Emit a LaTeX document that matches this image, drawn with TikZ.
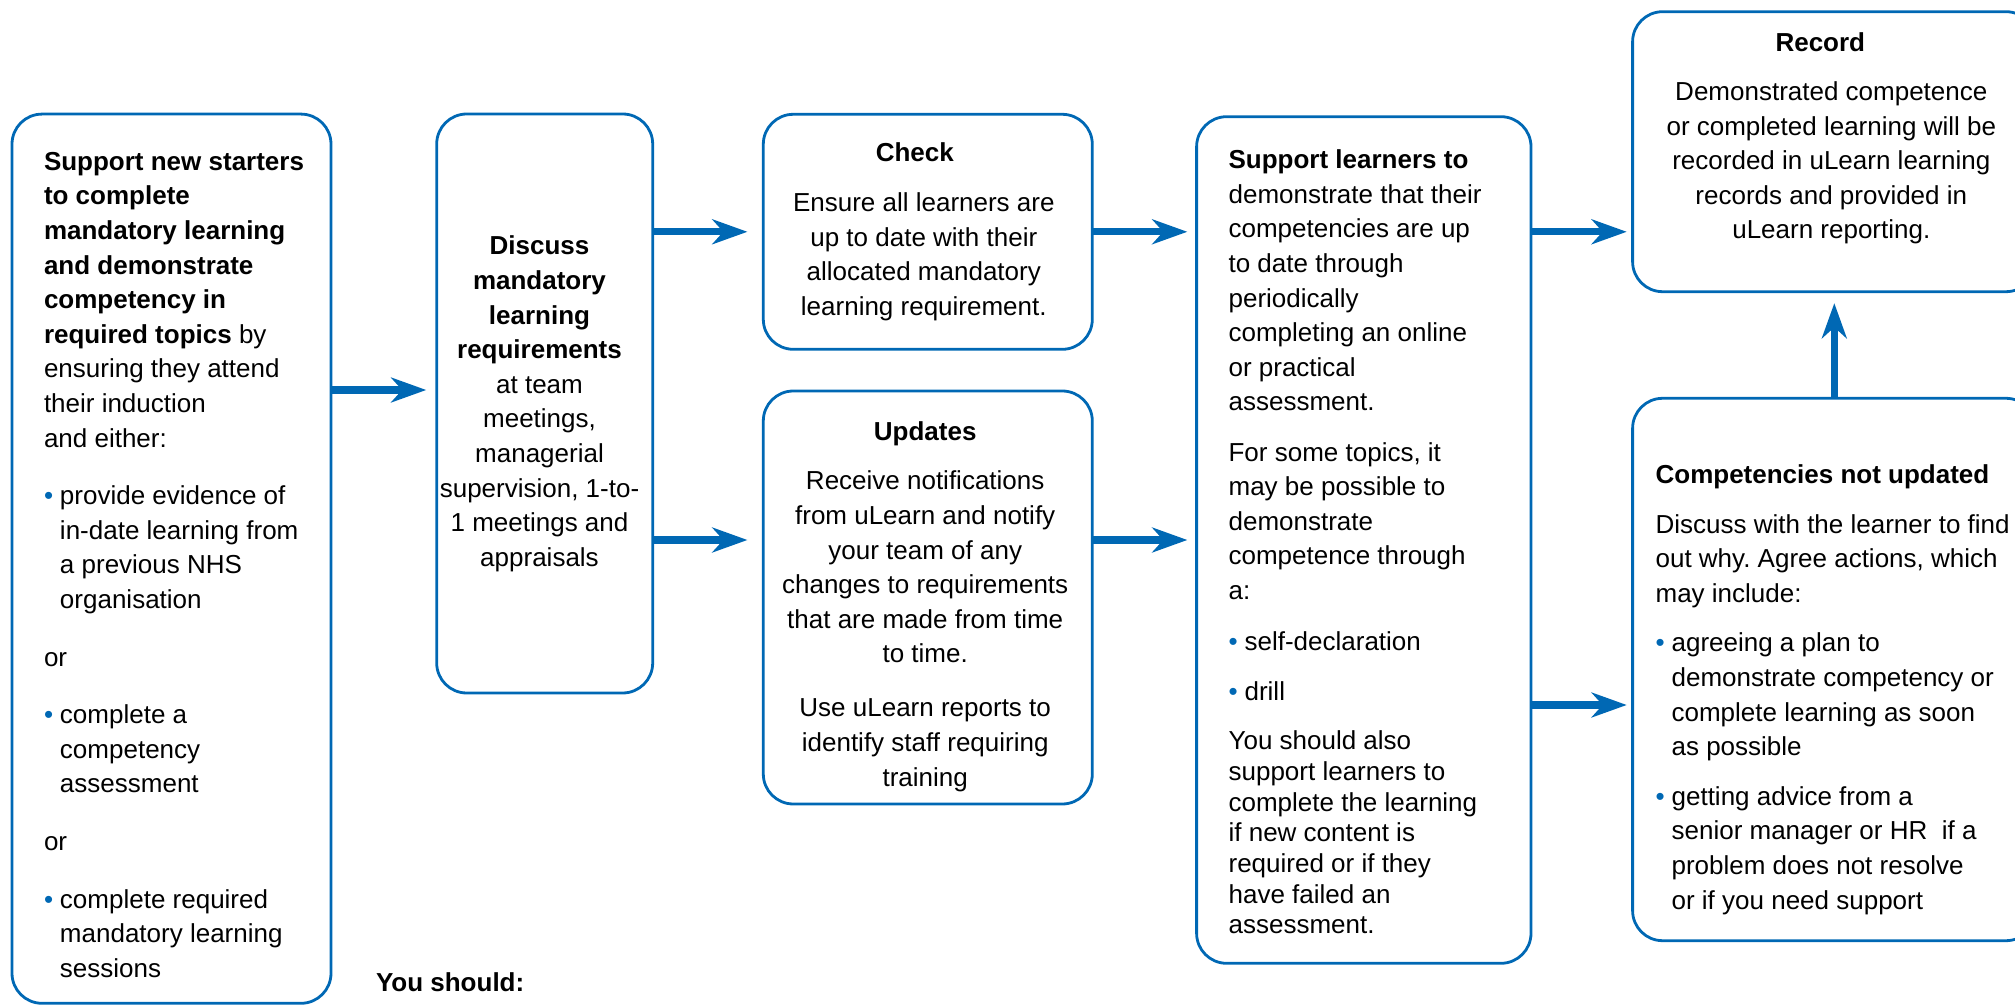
\documentclass[tikz,border=0pt]{standalone}
\usepackage{fontspec}
\setmainfont{Liberation Sans}
\usetikzlibrary{arrows.meta}
\frenchspacing
\definecolor{nhsblue}{RGB}{0,104,180}
\newcommand{\dotitem}{\makebox[8pt][l]{\textcolor{nhsblue}{\textbullet}}}
\newcommand{\indentitem}{\hspace*{8pt}}
\tikzset{
	panel/.style={draw=nhsblue, line width=1.4pt, rounded corners=15pt, inner sep=0pt, outer sep=0pt},
	paneltext/.style={inner sep=0pt, outer sep=0pt, font=\fontsize{13}{17.3}\selectfont},
	flow/.style={draw=nhsblue, line width=3.6pt, -{Stealth[length=17.8pt, width=12.8pt, inset=5.8pt, line width=0pt]}}
}

\begin{document}
\begin{tikzpicture}[x=0.5pt, y=-0.5pt]
		\useasboundingbox (0,0) rectangle (2015,1005);
		\clip (0,0) rectangle (2015,1005);
		\node[panel, minimum width=159.5pt, minimum height=444.6pt] (start) at (171.5,558.7) {};
		\node[panel, minimum width=108pt, minimum height=289.5pt] (discuss) at (544.7,403.5) {};
		\node[panel, minimum width=164.5pt, minimum height=117.5pt] (check) at (927.8,231.8) {};
		\node[panel, minimum width=164.5pt, minimum height=206.5pt] (updates) at (927.8,597.5) {};
		\node[panel, minimum width=167.2pt, minimum height=423.3pt] (support) at (1363.8,540) {};
		\node[panel, minimum width=201.7pt, minimum height=140pt] (record) at (1834.3,151.7) {};
		\node[panel, minimum width=201.7pt, minimum height=271.2pt] (notupdated) at (1834.3,669.5) {};
		\node[paneltext, anchor=north west, align=left] (startText) at ([xshift=16pt, yshift=-19pt]start.north west) {%
			\textbf{Support new starters}\\
			\textbf{to complete}\\
			\textbf{mandatory learning}\\
			\textbf{and demonstrate}\\
			\textbf{competency in}\\
			\textbf{required topics} by\\
			ensuring they attend\\
			their induction\\
			and either:\\[11.5pt]
			\dotitem provide evidence of\\
			\indentitem in-date learning from\\
			\indentitem a previous NHS\\
			\indentitem organisation\\[11.5pt]
			or\\[11.5pt]
			\dotitem complete a\\
			\indentitem competency\\
			\indentitem assessment\\[11.5pt]
			or\\[11.5pt]
			\dotitem complete required\\
			\indentitem mandatory learning\\
			\indentitem sessions};
		\node[paneltext, anchor=north, align=center] (discussText) at ([xshift=-2.6pt, yshift=-61pt]discuss.north) {%
			\textbf{Discuss}\\
			\textbf{mandatory}\\
			\textbf{learning}\\
			\textbf{requirements}\\
			at team\\
			meetings,\\
			managerial\\
			supervision, 1-to-\\
			1 meetings and\\
			appraisals};
		\node[paneltext, anchor=north, align=center] (checkText) at ([xshift=-2pt, yshift=-14.3pt]check.north) {%
			\textbf{Check}\hspace*{9pt}\\[7.7pt]
			Ensure all learners are\\
			up to date with their\\
			allocated mandatory\\
			learning requirement.};
		\node[paneltext, anchor=north, align=center] (updatesText) at ([xshift=-1.3pt, yshift=-15.3pt]updates.north) {%
			\textbf{Updates}\\[7.4pt]
			Receive notifications\\
			from uLearn and notify\\
			your team of any\\
			changes to requirements\\
			that are made from time\\
			to time.\\[9.7pt]
			Use uLearn reports to\\
			identify staff requiring\\
			training};
		\node[paneltext, anchor=north west, align=left] (supportText) at ([xshift=16pt, yshift=-16.6pt]support.north west) {%
			\textbf{Support learners to}\\
			demonstrate that their\\
			competencies are up\\
			to date through\\
			periodically\\
			completing an online\\
			or practical\\
			assessment.\\[7.8pt]
			For some topics, it\\
			may be possible to\\
			demonstrate\\
			competence through\\
			a:\\[8.3pt]
			\dotitem self-declaration\\[7.4pt]
			\dotitem drill\\[7.5pt]
			You should also\\[-1.95pt]
			support learners to\\[-1.95pt]
			complete the learning\\[-1.95pt]
			if new content is\\[-1.95pt]
			required or if they\\[-1.95pt]
			have failed an\\[-1.95pt]
			assessment.};
		\node[paneltext, anchor=north, align=center] (recordText) at ([xshift=-1.5pt, yshift=-10.3pt]record.north) {%
			\textbf{Record}\hspace*{11pt}\\[7.4pt]
			Demonstrated competence\\
			or completed learning will be\\
			recorded in uLearn learning\\
			records and provided in\\
			uLearn reporting.};
		\node[paneltext, anchor=north west, align=left] (notupdatedText) at ([xshift=11.5pt, yshift=-33.2pt]notupdated.north west) {%
			\textbf{Competencies not updated}\\[7.5pt]
			Discuss with the learner to find\\
			out why. Agree actions, which\\
			may include:\\[7.5pt]
			\dotitem agreeing a plan to\\
			\indentitem demonstrate competency or\\
			\indentitem complete learning as soon\\
			\indentitem as possible\\[7.5pt]
			\dotitem getting advice from a\\
			\indentitem senior manager or HR\ \ if a\\
			\indentitem problem does not resolve\\
			\indentitem or if you need support};
		\node[paneltext, anchor=base west] (youShould) at (376,991.7) {\textbf{You should:}};
		\coordinate (rowA) at (0,390);
		\coordinate (rowB) at (0,540);
		\coordinate (rowC) at (0,705);
		\draw[flow, shorten >=5.3pt] (start.east |- rowA) -- (discuss.west |- rowA);
		\draw[flow, shorten >=8pt] (discuss.east |- check.west) -- (check.west);
		\draw[flow, shorten >=8pt] (discuss.east |- rowB) -- (updates.west |- rowB);
		\draw[flow, shorten >=4.7pt] (check.east) -- (support.west |- check.east);
		\draw[flow, shorten >=4.7pt] (updates.east |- rowB) -- (support.west |- rowB);
		\draw[flow, shorten >=3pt] (support.east |- check.east) -- (record.west |- check.east);
		\draw[flow, shorten >=3pt] (support.east |- rowC) -- (notupdated.west |- rowC);
		\draw[flow, shorten >=5.8pt] (notupdated.north) -- (record.south);
	\end{tikzpicture}
\end{document}
